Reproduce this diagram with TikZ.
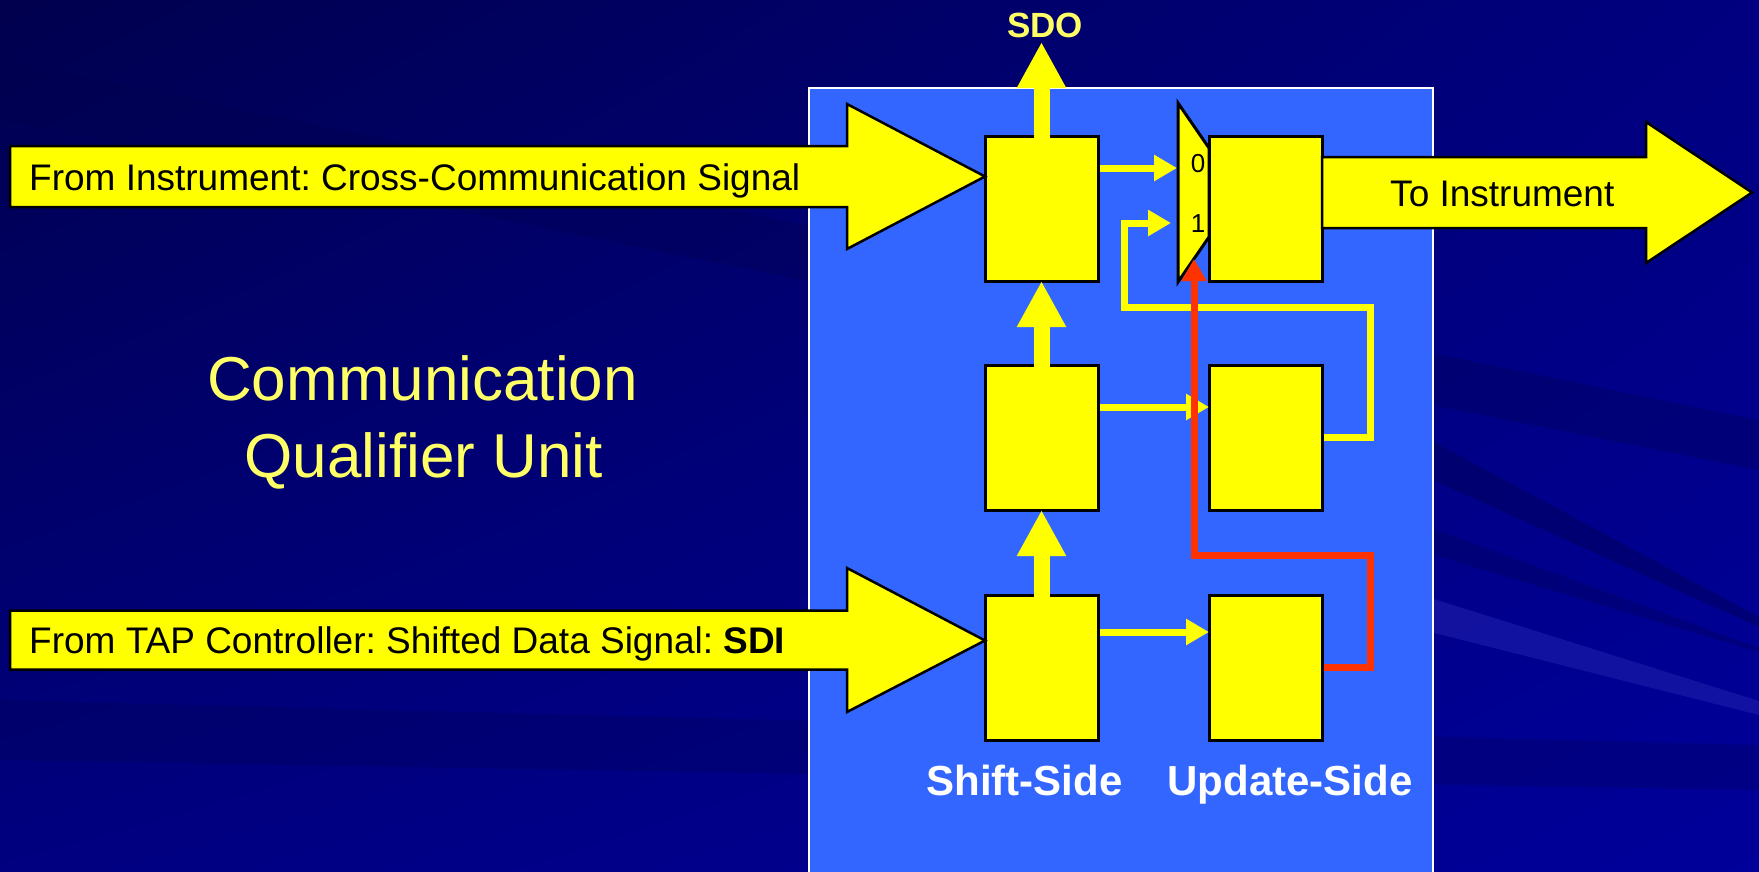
\documentclass[tikz,border=0pt]{standalone}
\usepackage{fontspec}
\setmainfont{Liberation Sans}
\usepackage{tikz}
\usetikzlibrary{arrows.meta, shadings}
\frenchspacing

\definecolor{bgdark}{HTML}{00004E}
\definecolor{bgmid}{HTML}{000080}
\definecolor{bglight}{HTML}{00009A}
\definecolor{streaklight}{HTML}{1A1AA8}
\definecolor{panelblue}{HTML}{3366FF}
\definecolor{sigyellow}{HTML}{FFFF00}
\definecolor{selred}{HTML}{FF3300}
\definecolor{titleyellow}{HTML}{FFFF66}

\tikzset{
    regbox/.style={draw=black, line width=3pt, fill=sigyellow, minimum width=113pt,
        minimum height=145pt, inner sep=0pt, outer sep=0pt},
    muxshape/.style={draw=black, line width=3pt, fill=sigyellow, line join=miter},
    bigarrow/.style={draw=black, line width=2.5pt, fill=sigyellow, line join=miter},
    upflow/.style={sigyellow, line width=16pt, -{Triangle[length=46pt,width=46pt]}},
    sigline/.style={sigyellow, line width=7pt, -{Triangle[length=23pt,width=25pt]}},
    selline/.style={selred, line width=7pt, -{Triangle[length=22pt,width=24pt]}},
    arrowtext/.style={font=\fontsize{37}{44}\selectfont, text=black, inner sep=0pt},
    sidetext/.style={font=\fontsize{42}{50}\selectfont\bfseries, text=white, inner sep=0pt},
    sdotext/.style={font=\fontsize{35}{42}\selectfont\bfseries, text=titleyellow, inner sep=0pt},
    titletext/.style={font=\fontsize{62}{77}\selectfont, text=titleyellow, inner sep=0pt},
    muxtext/.style={font=\fontsize{26}{30}\selectfont, text=black, inner sep=0pt}
}

\begin{document}
\begin{tikzpicture}[x=1pt, y=-1pt]

    % Slide background
    \clip (0,0) rectangle (1759,871);
    \shade[upper left=bgdark, upper right=bgmid, lower left=bgmid, lower right=bglight]
        (0,0) rectangle (1759,871);
    \fill[bgdark, opacity=0.3] (0,60) -- (1759,420) -- (1759,470) -- (0,120) -- cycle;
    \fill[bgdark, opacity=0.25] (0,700) -- (1759,745) -- (1759,790) -- (0,760) -- cycle;
    \fill[bgdark, opacity=0.4] (1300,370) -- (1759,617) -- (1759,627) -- (1300,420) -- cycle;
    \fill[bgdark, opacity=0.3] (1300,480) -- (1759,648) -- (1759,652) -- (1300,515) -- cycle;
    \fill[streaklight, opacity=0.7] (1300,557) -- (1759,701) -- (1759,715) -- (1300,599) -- cycle;

    % Unit panel
    \draw[white, line width=2pt, fill=panelblue] (809,88) rectangle (1433,900);

    % Title
    \node[titletext, anchor=base] (title1) at (422.5,400) {Communication};
    \node[titletext, anchor=base] (title2) at (423.5,477) {Qualifier Unit};

    % Shift and update registers
    \foreach \row/\y in {t/208.5, m/437.5, b/667.5} {
        \node[regbox] (s\row) at (1041.5,\y) {};
        \node[regbox] (u\row) at (1265.5,\y) {};
    }

    % Multiplexer
    \draw[muxshape] (1178,103) -- (1209,148) -- (1209,237) -- (1178,282) -- cycle;
    \node[muxtext] (sel0) at (1198,163.5) {0};
    \node[muxtext] (sel1) at (1198,224) {1};
    \coordinate (mux0) at (1177,168);
    \coordinate (mux1) at (1171,223);
    \coordinate (muxsel) at (1194,259);

    % Big input and output arrows
    \draw[bigarrow] ([yshift=32pt]st.west) -- ++(-138,-72.5) -- ++(0,42) -- ++(-837,0)
        -- ++(0,61) -- ++(837,0) -- ++(0,42) -- cycle;
    \draw[bigarrow] ([yshift=27pt]sb.west) -- ++(-138,-72.5) -- ++(0,42.5) -- ++(-837,0)
        -- ++(0,59) -- ++(837,0) -- ++(0,42.5) -- cycle;
    \draw[bigarrow] ([yshift=51.5pt]ut.east) -- ++(324,0) -- ++(0,-35) -- ++(106,70.5)
        -- ++(-106,70.5) -- ++(0,-35) -- ++(-324,0) -- cycle;
    \node[arrowtext, anchor=base west] (fromInstr) at (29,190) {From Instrument: Cross-Communication Signal};
    \node[arrowtext, anchor=base west] (fromTap) at (29,653) {From TAP Controller: Shifted Data Signal: \textbf{SDI}};
    \node[arrowtext, anchor=base west] (toInstr) at (1390,206) {To Instrument};

    % Shift to update / mux signals
    \draw[sigline] ([xshift=1.5pt, yshift=-32pt]st.north east) -- (mux0);
    \draw[sigline] ([xshift=1.5pt, yshift=-42pt]sm.north east) -- ([yshift=-42pt]um.north west);
    \draw[sigline] ([xshift=1.5pt, yshift=-37pt]sb.north east) -- ([yshift=-37pt]ub.north west);
    \draw[sigline] ([xshift=1.5pt]um.east) -| (1370,307) -| (1124,223) -- (mux1);

    % Select line
    \draw[selline] ([xshift=1.5pt]ub.east) -| (1370,555) -| (muxsel);

    % Shift path
    \coordinate (sdotip) at (1041.5,42);
    \draw[upflow] ([yshift=-1.5pt]sb.north) -- (sm.south);
    \draw[upflow] ([yshift=-1.5pt]sm.north) -- (st.south);
    \draw[upflow] ([yshift=-1.5pt]st.north) -- (sdotip);
    \node[sdotext, anchor=base] (sdo) at (1045,37) {SDO};

    % Side labels
    \node[sidetext, anchor=base] (shiftlbl) at (1024.5,795) {Shift-Side};
    \node[sidetext, anchor=base] (updlbl) at (1290,795) {Update-Side};

\end{tikzpicture}
\end{document}
